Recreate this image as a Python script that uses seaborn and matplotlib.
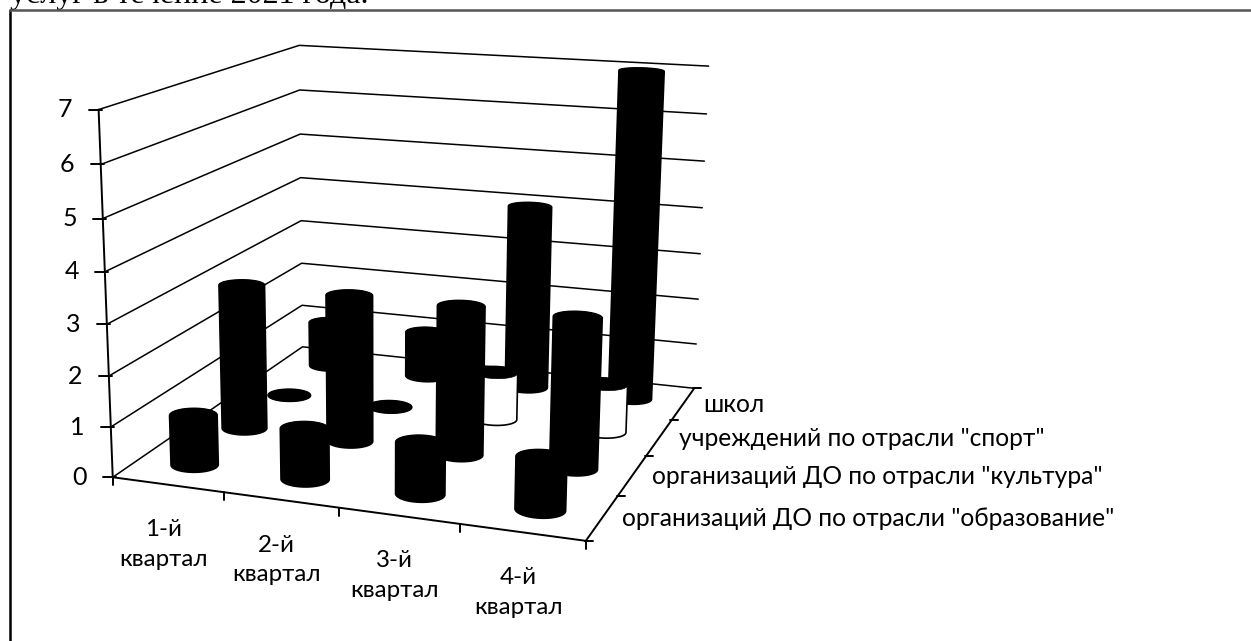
import numpy as np
import pandas as pd
import matplotlib
matplotlib.use("Agg")
import matplotlib.pyplot as plt
import seaborn as sns

quarters = ["1-й\nквартал", "2-й\nквартал", "3-й\nквартал", "4-й\nквартал"]
series_names = ['организаций ДО по отрасли "образование"',
                'организаций ДО по отрасли "культура"',
                'учреждений по отрасли "спорт"',
                'школ']
obrazovanie = [1, 1, 1, 1]
kultura = [3, 3, 3, 3]
sport = [0, 0, 1, 1]
shkol = [1, 1, 4, 7]
z_ticks = [0, 1, 2, 3, 4, 5, 6, 7]

series_values = [obrazovanie, kultura, sport, shkol]
body_colors = ["black", "black", "white", "black"]

# --- perspective scale: fitted from the box corners of the plot frame
box = [((0, 0, 0), (113, 477)), ((4, 0, 0), (586, 541)), ((4, 4, 0), (694, 388)), ((0, 4, 0), (302, 347)),
       ((0, 0, 7), (98, 110)), ((0, 4, 7), (300, 45)), ((4, 4, 7), (708, 66)),
       ((0, 0, 3), (107, 324)), ((0, 4, 3), (301, 221)), ((4, 4, 3), (701, 254))]
rows = []
for (X, Y, Z), (u, v) in box:
    rows.append([X, Y, Z, 1, 0, 0, 0, 0, -u*X, -u*Y, -u*Z, -u])
    rows.append([0, 0, 0, 0, X, Y, Z, 1, -v*X, -v*Y, -v*Z, -v])
P = np.linalg.svd(np.array(rows, float))[2][-1].reshape(3, 4)


def proj(x, y, z):
    h = P @ np.array([x, y, z, np.ones_like(np.asarray(x, float))], float)
    return h[0] / h[2], h[1] / h[2]


def hull(points):
    pts = sorted(set(map(tuple, np.round(points, 3))))
    def half(seq):
        out = []
        for p in seq:
            while len(out) > 1 and ((out[-1][0]-out[-2][0])*(p[1]-out[-2][1]) -
                                    (out[-1][1]-out[-2][1])*(p[0]-out[-2][0])) <= 0:
                out.pop()
            out.append(p)
        return out[:-1]
    return np.array(half(pts) + half(pts[::-1]))


sns.set_theme(style="white")
plt.rcParams["font.family"] = ["Lato", "Open Sans", "DejaVu Sans"]
fig = plt.figure(figsize=(12.51, 6.41), dpi=100, facecolor="white")
ax = fig.add_axes([0, 0, 1, 1])
ax.set_xlim(0, 1251)
ax.set_ylim(641, 0)
ax.axis("off")

# walls
lines = []
for z in z_ticks:
    for k, (a, b) in enumerate([(0, 0), (0, 4), (4, 4)]):
        x, y = proj(float(a), float(b), float(z))
        lines.append({"x": x, "y": y, "g": z, "o": k})
df = pd.DataFrame(lines)
sns.lineplot(data=df, x="x", y="y", units="g", estimator=None, sort=False, color="black",
             linewidth=1.1, ax=ax, legend=False)
ax.set_xlim(0, 1251)
ax.set_ylim(641, 0)
ax.set_xlabel("")
ax.set_ylabel("")

LW = 1.4
# value axis
xa, ya = proj(np.array([0., 0.]), np.array([0., 0.]), np.array([0., 7.]))
ax.plot(xa, ya, color="black", lw=LW)
for z in z_ticks:
    x, y = proj(0., 0., float(z))
    ax.plot([x - 10, x + 3], [y, y], color="black", lw=LW)
    ax.text(x - 26, y, str(z), ha="right", va="center", fontsize=18, color="black")

# floor front edges
xa, ya = proj(np.array([0., 4., 4.]), np.array([0., 0., 4.]), np.array([0., 0., 0.]))
ax.plot(xa, ya, color="black", lw=LW)

for i in range(5):
    x, y = proj(float(i), 0., 0.)
    ax.plot([x, x], [y, y + 8], color="black", lw=LW)
for j in range(5):
    x, y = proj(4., float(j), 0.)
    ax.plot([x - 1, x + 7], [y, y], color="black", lw=LW)

for i, q in enumerate(quarters):
    x, y = proj(i + 0.5, 0., 0.)
    ax.text(x - 4, y + 60, q, ha="center", va="center", fontsize=17.4, linespacing=1.5, color="black")
for j, s in enumerate(series_names):
    x, y = proj(4., j + 0.5, 0.)
    ax.text(x + 20, y + 1, s, ha="left", va="center", fontsize=17.7, color="black")

# cylinders, back row first
t = np.linspace(0, 2 * np.pi, 73)
RX, RY = 0.2, 0.18
for j in range(3, -1, -1):
    for i in range(4):
        v = series_values[j][i]
        cx, cy = i + 0.5, j + 0.5
        bx, by = proj(cx + RX * np.cos(t), cy + RY * np.sin(t), np.zeros_like(t))
        tx, ty = proj(cx + RX * np.cos(t), cy + RY * np.sin(t), np.full_like(t, float(v)))
        pts = hull(np.column_stack([np.r_[bx, tx], np.r_[by, ty]]))
        ax.fill(pts[:, 0], pts[:, 1], facecolor=body_colors[j], edgecolor="black", lw=1.2, zorder=3 + (3 - j))
        ax.fill(tx, ty, facecolor="black", edgecolor="black", lw=0.5, zorder=3 + (3 - j))

# page frame and clipped caption line of the source document
ax.plot([9.5, 9.5], [10, 641], color="black", lw=1.8, zorder=6)
ax.plot([9.5, 1251], [9.5, 9.5], color="#555555", lw=1.8, zorder=6)
ax.text(10, 3, "услуг в течение 2021 года.", family=["Liberation Serif"], fontsize=23,
        ha="left", va="baseline", color="black", clip_on=False)

fig.savefig("out.png", dpi=100)
